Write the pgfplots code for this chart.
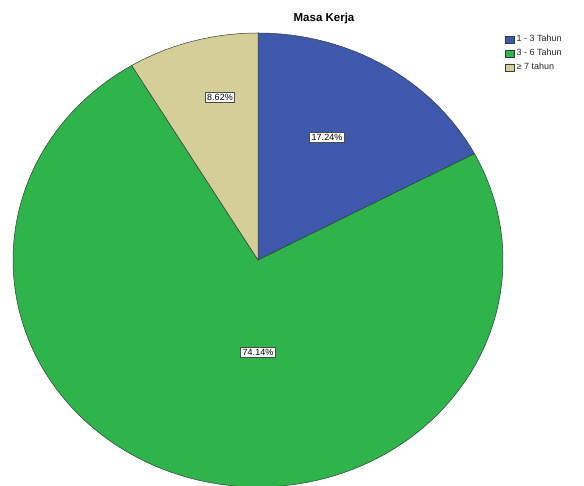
\documentclass[border=0pt]{standalone}
\usepackage{fontspec}
\setmainfont{Liberation Sans}
\usepackage{pgfplots}
\pgfplotsset{compat=1.18}
\definecolor{cBlue}{RGB}{62,88,172}
\definecolor{cGreen}{RGB}{46,180,75}
\definecolor{cTan}{RGB}{212,206,153}
\definecolor{cEdge}{RGB}{50,60,60}
% percentages
\def\pA{17.24}
\def\pB{74.14}
\def\pC{8.62}
\pgfmathsetmacro{\aA}{90-\pA*3.6}
\pgfmathsetmacro{\aB}{\aA-\pB*3.6}
\pgfmathsetmacro{\aC}{\aB-\pC*3.6}
\begin{document}
\begin{tikzpicture}
\begin{axis}[
  at={(0,0)}, anchor=south west,
  width=584pt, height=486pt, scale only axis,
  xmin=0, xmax=584, ymin=0, ymax=486,
  hide axis, clip=true,
  legend style={at={(axis cs:505,453)}, anchor=north west, draw=none, fill=none,
    font=\fontsize{9}{10}\selectfont, row sep=2pt, inner sep=0pt,
    cells={anchor=west}, text=black!85},
  legend image code/.code={\draw[#1,draw=cEdge,line width=0.4pt] (0pt,-3.5pt) rectangle (9pt,3.5pt);},
]
\addplot[fill=cBlue, draw=cEdge, line width=0.5pt, domain=\aA:90, samples=60, variable=\t]
  ({258+245*cos(\t)},{226+227*sin(\t)}) -- (axis cs:258,226) -- cycle;
\addlegendentry{1 - 3 Tahun}
\addplot[fill=cGreen, draw=cEdge, line width=0.5pt, domain=\aB:\aA, samples=200, variable=\t]
  ({258+245*cos(\t)},{226+227*sin(\t)}) -- (axis cs:258,226) -- cycle;
\addlegendentry{3 - 6 Tahun}
\addplot[fill=cTan, draw=cEdge, line width=0.5pt, domain=\aC:\aB, samples=40, variable=\t]
  ({258+245*cos(\t)},{226+227*sin(\t)}) -- (axis cs:258,226) -- cycle;
\addlegendentry{≥ 7 tahun}
\tikzset{lbl/.style={draw=black!70, fill=white, line width=0.6pt, inner xsep=2pt, inner ysep=2pt, font=\fontsize{9}{10}\selectfont}}
\node[lbl] at (axis cs:327,349) {17.24\%};
\node[lbl] at (axis cs:258,134) {74.14\%};
\node[lbl] at (axis cs:220,389) {8.62\%};
\node[font=\fontsize{11.5}{13}\selectfont\bfseries] at (axis cs:324,467) {Masa Kerja};
\end{axis}
\pgfresetboundingbox
\path[use as bounding box] (0,0) rectangle (584pt,486pt);
\end{tikzpicture}
\end{document}
